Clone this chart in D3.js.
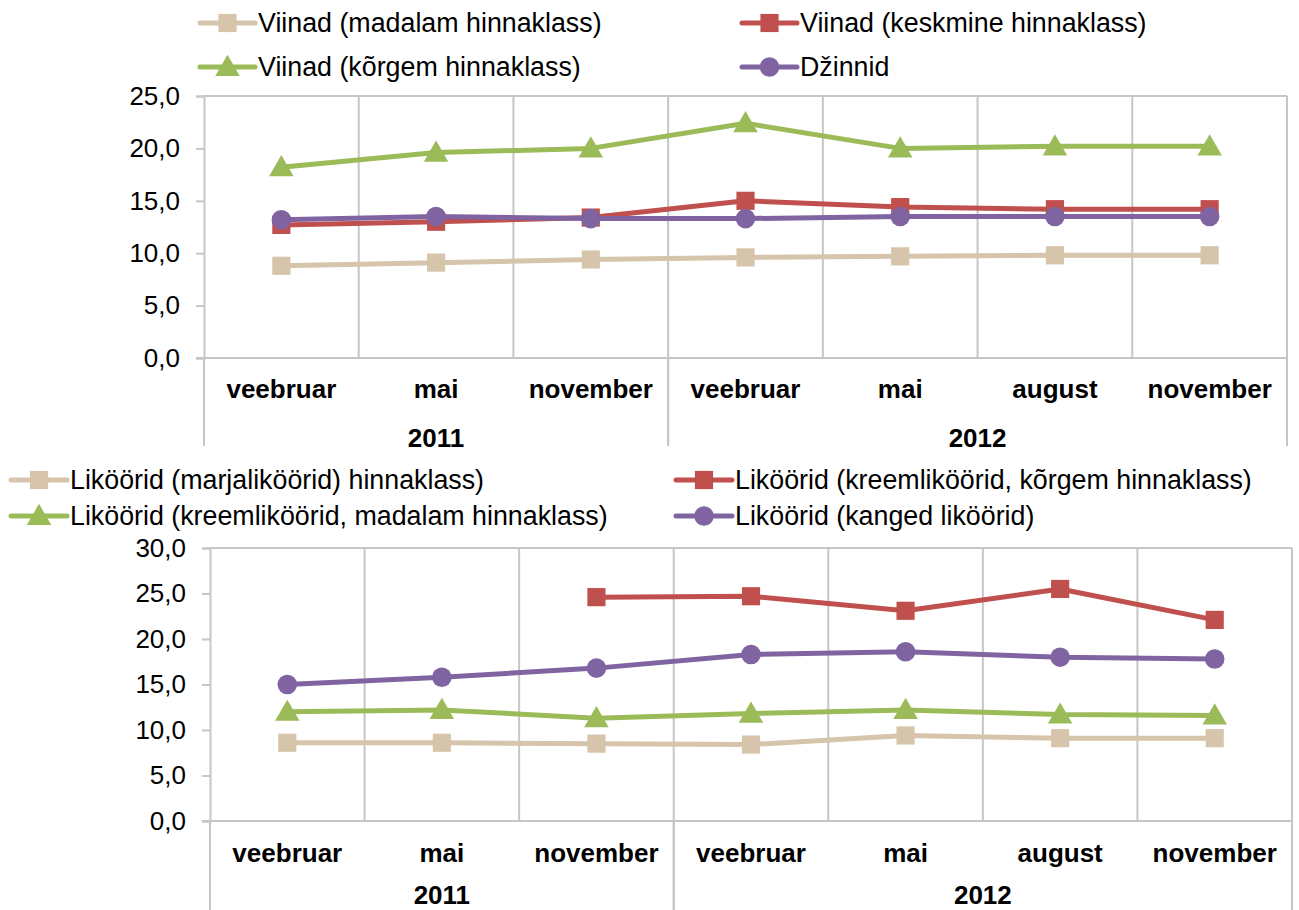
<!DOCTYPE html>
<html>
<head>
<meta charset="utf-8">
<script src="https://cdn.jsdelivr.net/npm/d3@7"></script>
<style>
  body { margin: 0; background: #fff; }
  svg { display: block; font-family: "Liberation Sans", Arial, sans-serif; }
</style>
</head>
<body>
<svg id="chart" width="1299" height="910"></svg>
<script>
// kategooriad
var months = ['veebruar', 'mai', 'november', 'veebruar', 'mai', 'august', 'november'];
var years = ['2011', '2012'];
var yearSpan = [3, 4];

// ülemine graafik - viinad, džinn
var viinadNames = ['Viinad (madalam hinnaklass)', 'Viinad (keskmine hinnaklass)', 'Viinad (kõrgem hinnaklass)', 'Džinnid'];
var viinadMadalam = [8.8, 9.1, 9.4, 9.6, 9.7, 9.8, 9.8];
var viinadKeskmine = [12.7, 13.0, 13.4, 15.0, 14.4, 14.2, 14.2];
var viinadKorgem = [18.2, 19.6, 20.0, 22.4, 20.0, 20.2, 20.2];
var dzinnid = [13.2, 13.5, 13.3, 13.3, 13.5, 13.5, 13.5];
var topTicks = [0, 5, 10, 15, 20, 25];

// alumine graafik - liköörid
var likooridNames = ['Liköörid (marjaliköörid) hinnaklass)', 'Liköörid (kreemliköörid, kõrgem hinnaklass)', 'Liköörid (kreemliköörid, madalam hinnaklass)', 'Liköörid (kanged liköörid)'];
var marjalikoorid = [8.6, 8.6, 8.5, 8.4, 9.4, 9.1, 9.1];
var kreemKorgem = [null, null, 24.6, 24.7, 23.1, 25.5, 22.1];
var kreemMadalam = [12.0, 12.2, 11.3, 11.8, 12.2, 11.7, 11.6];
var kangedLikoorid = [15.0, 15.8, 16.8, 18.3, 18.6, 18.0, 17.8];
var bottomTicks = [0, 5, 10, 15, 20, 25, 30];

var colors = ['#d6c4ab', '#c0504d', '#9bbb59', '#8064a2'];
var symbols = [d3.symbolSquare, d3.symbolSquare, d3.symbolTriangle, d3.symbolCircle];
var symbolSize = [330, 330, 260, 300];
var gridColor = '#c6c6c6';

var svg = d3.select('#chart');
var fmt = function (d) { return d3.format('.1f')(d).replace('.', ','); };

function drawLegend(names, opt) {
    names.forEach(function (name, i) {
        var col = i % 2, row = Math.floor(i / 2);
        var x0 = opt.cols[col], y = opt.rows[row];
        var g = svg.append('g').attr('transform', 'translate(' + x0 + ',' + y + ')');
        g.append('line').attr('x1', 0).attr('x2', opt.len).attr('y1', 0).attr('y2', 0)
            .attr('stroke', colors[i]).attr('stroke-width', 5).attr('stroke-linecap', 'round');
        g.append('path').attr('d', d3.symbol().type(symbols[i]).size(symbolSize[i])())
            .attr('transform', 'translate(' + opt.len / 2 + ',' + (i === 2 ? 2 : 0) + ')')
            .attr('fill', colors[i]);
        g.append('text').attr('x', opt.len + 3).attr('y', 0).attr('dy', '0.35em')
            .attr('font-size', 26.8).attr('fill', '#000').text(name);
    });
}

function drawChart(series, ticks, box) {
    var x = d3.scaleBand().domain(d3.range(months.length)).range([box.left, box.right]).padding(0);
    var y = d3.scaleLinear().domain([0, d3.max(ticks)]).range([box.bottom, box.top]);
    var g = svg.append('g');

    // vertikaalsed võrgujooned
    g.selectAll('line.grid').data(d3.range(1, months.length + 1)).enter().append('line')
        .attr('class', 'grid')
        .attr('x1', function (d) { return d === months.length ? box.right : x(d); })
        .attr('x2', function (d) { return d === months.length ? box.right : x(d); })
        .attr('y1', y(d3.max(ticks))).attr('y2', y(0))
        .attr('stroke', gridColor).attr('stroke-width', 2);
    g.append('line').attr('x1', box.left).attr('x2', box.right)
        .attr('y1', y(d3.max(ticks))).attr('y2', y(d3.max(ticks)))
        .attr('stroke', gridColor).attr('stroke-width', 2);

    // y telg
    var yAxis = g.append('g').attr('transform', 'translate(' + box.left + ',0)')
        .call(d3.axisLeft(y).tickValues(ticks).tickFormat(fmt).tickSize(8).tickPadding(16));
    yAxis.select('.domain').attr('stroke', gridColor).attr('stroke-width', 2);
    yAxis.selectAll('.tick line').attr('stroke', gridColor).attr('stroke-width', 2);
    yAxis.selectAll('.tick text').attr('font-size', 26).attr('fill', '#000')
        .attr('font-family', '"Liberation Sans", Arial, sans-serif');

    // x telg - kuud
    var xAxis = g.append('g').attr('transform', 'translate(0,' + box.bottom + ')')
        .call(d3.axisBottom(x).tickFormat(function (d) { return months[d]; }).tickSize(0).tickPadding(0));
    xAxis.select('.domain').remove();
    xAxis.selectAll('.tick text').attr('dy', null).attr('y', box.monthY)
        .attr('font-size', 26).attr('font-weight', 'bold').attr('fill', '#000')
        .attr('font-family', '"Liberation Sans", Arial, sans-serif');
    g.append('line').attr('x1', box.left - 8).attr('x2', box.right).attr('y1', y(0)).attr('y2', y(0))
        .attr('stroke', gridColor).attr('stroke-width', 2);

    // aastad ja eraldusjooned
    var start = 0;
    years.forEach(function (yr, i) {
        var end = start + yearSpan[i];
        var xs = x(start), xe = end === months.length ? box.right : x(end);
        g.append('text').attr('x', (xs + xe) / 2).attr('y', box.bottom + box.yearY)
            .attr('text-anchor', 'middle').attr('font-size', 26).attr('font-weight', 'bold').text(yr);
        [xs, xe].forEach(function (sx) {
            g.append('line').attr('x1', sx).attr('x2', sx).attr('y1', y(0)).attr('y2', box.sepEnd)
                .attr('stroke', gridColor).attr('stroke-width', 2);
        });
        start = end;
    });

    // jooned ja markerid
    var line = d3.line()
        .defined(function (d) { return d != null; })
        .x(function (d, i) { return x(i) + x.bandwidth() / 2; })
        .y(function (d) { return y(d); });
    series.forEach(function (vals, s) {
        g.append('path').datum(vals).attr('d', line)
            .attr('fill', 'none').attr('stroke', colors[s]).attr('stroke-width', 5)
            .attr('stroke-linejoin', 'round');
        g.selectAll('path.m' + s).data(vals.map(function (v, i) { return [i, v]; })
            .filter(function (p) { return p[1] != null; }))
            .enter().append('path').attr('class', 'm' + s)
            .attr('d', d3.symbol().type(symbols[s]).size(symbolSize[s])())
            .attr('transform', function (p) {
                return 'translate(' + (x(p[0]) + x.bandwidth() / 2) + ',' + (y(p[1]) + (s === 2 ? 2 : 0)) + ')';
            })
            .attr('fill', colors[s]);
    });
}

drawLegend(viinadNames, { cols: [200, 742], rows: [23, 67], len: 55 });
drawChart([viinadMadalam, viinadKeskmine, viinadKorgem, dzinnid], topTicks,
    { left: 204, right: 1287, top: 96, bottom: 358, monthY: 40, yearY: 89, sepEnd: 446 });

drawLegend(likooridNames, { cols: [11, 676], rows: [480, 516], len: 56 });
drawChart([marjalikoorid, kreemKorgem, kreemMadalam, kangedLikoorid], bottomTicks,
    { left: 210, right: 1292, top: 548, bottom: 821, monthY: 41, yearY: 83, sepEnd: 910 });
</script>
</body>
</html>
